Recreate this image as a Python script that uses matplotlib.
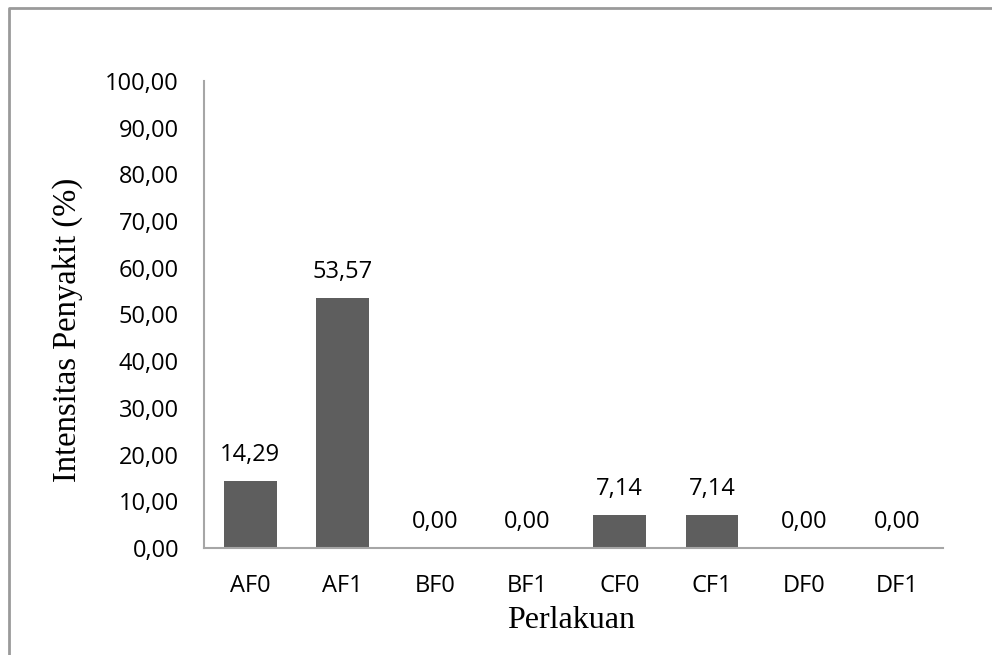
import matplotlib.pyplot as plt
from matplotlib.lines import Line2D

perlakuan = ['AF0', 'AF1', 'BF0', 'BF1', 'CF0', 'CF1', 'DF0', 'DF1']
intensitas = [14.29, 53.57, 0.00, 0.00, 7.14, 7.14, 0.00, 0.00]
y_ticks = [0, 10, 20, 30, 40, 50, 60, 70, 80, 90, 100]

sans = 'Open Sans'
serif = 'Liberation Serif'

fig = plt.figure(figsize=(9.92, 6.55), dpi=100)
ax = fig.add_axes([204 / 992, 1 - 548 / 655, (943 - 204) / 992, (548 - 81) / 655])

x = range(len(perlakuan))
ax.bar(x, intensitas, width=0.57, color='#5e5e5e', zorder=2)

# value labels above the bars
for i, v in zip(x, intensitas):
    ax.annotate(f'{v:.2f}'.replace('.', ','), (i, v), xytext=(0, 10),
                textcoords='offset points', ha='center', va='bottom',
                fontsize=17, family=sans, color='black')

ax.set_xlim(-0.5, len(perlakuan) - 0.5)
ax.set_ylim(0, 100)
ax.set_xticks(list(x))
ax.set_xticklabels(perlakuan, fontsize=17, family=sans)
ax.set_yticks(y_ticks)
ax.set_yticklabels([f'{t:.2f}'.replace('.', ',') for t in y_ticks], fontsize=17, family=sans)
ax.tick_params(axis='both', length=0)
ax.tick_params(axis='y', pad=18)
ax.tick_params(axis='x', pad=19)

for side in ['top', 'right']:
    ax.spines[side].set_visible(False)
for side in ['left', 'bottom']:
    ax.spines[side].set_color('#a6a6a6')
    ax.spines[side].set_linewidth(1.5)

ax.set_xlabel('Perlakuan', fontsize=23, family=serif, va='center')
ax.set_ylabel('Intensitas Penyakit (%)', fontsize=23.5, family=serif, va='center')
ax.xaxis.set_label_coords(0.497, -0.156)
ax.yaxis.set_label_coords(-0.185, 0.467)

# outer frame of the chart area
fig.add_artist(Line2D([9 / 992, 9 / 992, 1.0], [0.0, 1 - 8 / 655, 1 - 8 / 655],
                      transform=fig.transFigure, color='#9a9a9a', linewidth=2))

fig.savefig('out.png', dpi=100)
